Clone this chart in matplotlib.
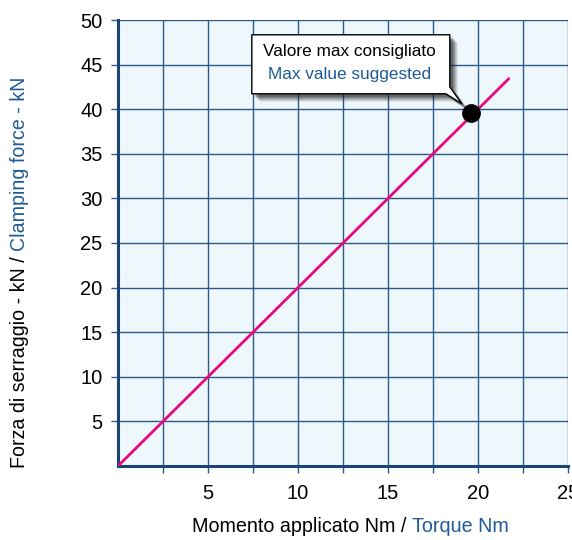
import matplotlib
matplotlib.use("Agg")
import matplotlib.pyplot as plt
from matplotlib.patches import Polygon
from matplotlib import transforms

plt.rcParams['font.family'] = ['Liberation Sans', 'DejaVu Sans']

# data: clamping force (kN) vs applied torque (Nm)
torque = [0, 21.75]
force = [0, 43.5]
max_torque = 19.6
max_force = 39.6

x_major = [5, 10, 15, 20, 25]
x_minor = [2.5, 7.5, 12.5, 17.5, 22.5]
y_ticks = [5, 10, 15, 20, 25, 30, 35, 40, 45, 50]

NAVY = "#1b4472"
GRID = "#2c5a8a"
BLUE = "#1f5a96"
PINK = "#e8087f"

fig = plt.figure(figsize=(5.72, 5.4), dpi=100)
ax = fig.add_axes([118 / 572, 1 - 466 / 540, 450 / 572, 446 / 540])
ax.set_facecolor("#eef7fc")

ax.plot(torque, force, color=PINK, lw=2.0, zorder=3, solid_capstyle="butt")
ax.plot([max_torque], [max_force], "o", color="black", ms=12.5, zorder=4)

ax.set_xlim(0, 25)
ax.set_ylim(0, 50)
ax.set_xticks(x_major)
ax.set_xticks(x_minor, minor=True)
ax.set_yticks(y_ticks)
ax.grid(True, which="both", color=GRID, lw=1.0, zorder=1)
ax.set_axisbelow(True)

for side in ["top", "right"]:
    ax.spines[side].set_visible(False)
for side in ["left", "bottom"]:
    ax.spines[side].set_color(NAVY)
    ax.spines[side].set_linewidth(2.2)

ax.tick_params(axis="x", which="both", direction="out", length=5, width=1, color=GRID,
               labelsize=14.5, pad=8)
ax.tick_params(axis="y", direction="out", length=5, width=1, color=GRID,
               labelsize=14.5, pad=6)

# callout box anchored on the max point, offsets in pixels
off = transforms.IdentityTransform() + transforms.ScaledTranslation(
    max_torque, max_force, ax.transData)
box = [(-219, 78), (-21, 78), (-21, 26), (-9, 9), (-25, 19), (-219, 19)]
# soft shadow: a few stacked, shifted layers
for d, a in [(8, 0.10), (7, 0.12), (6, 0.15), (5, 0.18), (4, 0.22), (3, 0.25)]:
    ax.add_patch(Polygon([(x + d, y - d) for x, y in box], closed=True, transform=off,
                         facecolor="#222222", edgecolor="none", alpha=a, zorder=5))
bubble = Polygon(box, closed=True, transform=off, facecolor="white",
                 edgecolor="black", lw=1.0, zorder=6)
ax.add_patch(bubble)
ax.text(-121, 61, "Valore max consigliato", transform=off, ha="center", va="center",
        fontsize=12.4, color="black", zorder=7)
ax.text(-121, 38, "Max value suggested", transform=off, ha="center", va="center",
        fontsize=12.4, color=BLUE, zorder=7)

# two-colour axis labels, placed piece by piece
fig.canvas.draw()
r = fig.canvas.get_renderer()

t1 = fig.text(20 / 572, 1 - 468 / 540, "Forza di serraggio - kN / ", rotation=90,
              ha="center", va="bottom", fontsize=14.1, color="black")
ext = t1.get_window_extent(r)
fig.text(20 / 572, ext.y1 / fig.bbox.height, "Clamping force - kN", rotation=90,
         ha="center", va="bottom", fontsize=14.1, color=BLUE)

x1 = fig.text(0, 1 - 527 / 540, "Momento applicato Nm / ", ha="left", va="center",
              fontsize=14.2, color="black")
x2 = fig.text(0, 1 - 527 / 540, "Torque Nm", ha="left", va="center",
              fontsize=14.2, color=BLUE)
w1 = x1.get_window_extent(r).width
w2 = x2.get_window_extent(r).width
start = 350 - (w1 + w2) / 2
x1.set_x(start / 572)
x2.set_x((start + w1) / 572)

fig.savefig("out.png", dpi=100)
